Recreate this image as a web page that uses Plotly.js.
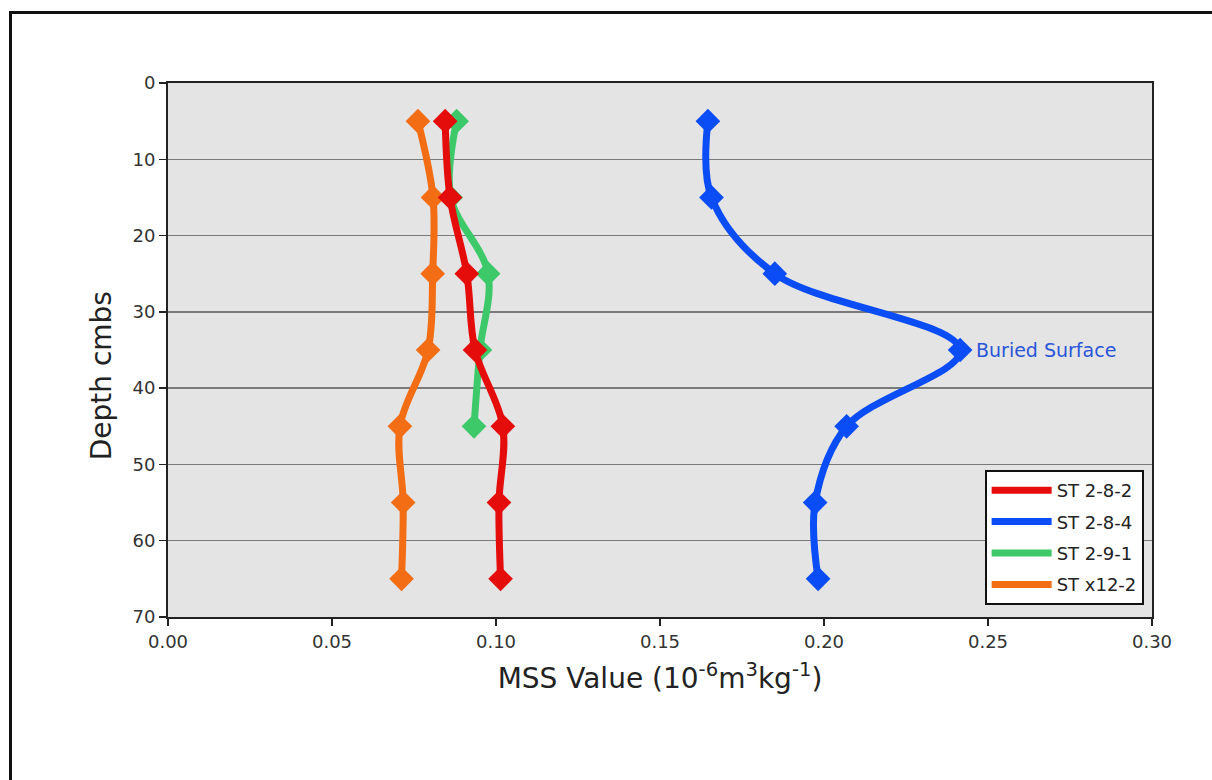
<!DOCTYPE html>
<html>
<head>
<meta charset="utf-8">
<script src="https://cdn.plot.ly/plotly-3.0.1.min.js"></script>
<style>
  html, body { margin: 0; padding: 0; background: #fff; }
  #wrap { position: relative; width: 1212px; height: 780px; overflow: hidden; }
  #chart { width: 1212px; height: 780px; }
  #frame { position: absolute; left: 9px; top: 11px; width: 1300px; height: 900px;
           border-left: 3px solid #111; border-top: 3px solid #111; pointer-events: none; }
</style>
</head>
<body>
<div id="wrap">
  <div id="chart"></div>
  <div id="frame"></div>
</div>
<script>
// Depths (cm below surface)
const depths = [5, 15, 25, 35, 45, 55, 65];
const depthsShort = [5, 15, 25, 35, 45];

// MSS values (10^-6 m^3 kg^-1)
const st282 = [0.0845, 0.0860, 0.0911, 0.0936, 0.1021, 0.1009, 0.1014];
const st284 = [0.1646, 0.1657, 0.1850, 0.2415, 0.2069, 0.1973, 0.1982];
const st291 = [0.0880, 0.0862, 0.0976, 0.0951, 0.0933];
const stx122 = [0.0762, 0.0808, 0.0807, 0.0793, 0.0707, 0.0717, 0.0712];

const seriesNames = ['ST 2-8-2', 'ST 2-8-4', 'ST 2-9-1', 'ST x12-2'];
const colors = ['#e50c0c', '#0a4cf5', '#3dc96a', '#f26d14'];

const xTicks = [0, 0.05, 0.10, 0.15, 0.20, 0.25, 0.30];
const yTicks = [0, 10, 20, 30, 40, 50, 60, 70];
const annotationText = 'Buried Surface';
const xTitle = 'MSS Value (10<sup>-6</sup>m<sup>3</sup>kg<sup>-1</sup>)';
const yTitle = 'Depth cmbs';

function dataTrace(x, y, color) {
  return {
    x: x, y: y, type: 'scatter', mode: 'lines+markers', showlegend: false,
    line: {color: color, width: 7, shape: 'spline', smoothing: 1},
    marker: {symbol: 'diamond', size: 19, color: color},
    hoverinfo: 'x+y'
  };
}
function legendTrace(name, color, i) {
  return {
    x: [null], y: [null], type: 'scatter', mode: 'lines', name: name,
    legendgroup: 'g' + i,
    line: {color: color, width: 7}
  };
}

const traces = [
  dataTrace(st291, depthsShort, colors[2]),
  dataTrace(stx122, depths, colors[3]),
  dataTrace(st282, depths, colors[0]),
  dataTrace(st284, depths, colors[1]),
  legendTrace(seriesNames[0], colors[0], 0),
  legendTrace(seriesNames[1], colors[1], 1),
  legendTrace(seriesNames[2], colors[2], 2),
  legendTrace(seriesNames[3], colors[3], 3)
];

const fontFam = '"DejaVu Sans", "Open Sans", sans-serif';

const layout = {
  width: 1212, height: 780,
  margin: {l: 168, r: 60, t: 83, b: 163, pad: 0},
  paper_bgcolor: '#ffffff',
  plot_bgcolor: '#e4e4e4',
  font: {family: fontFam, color: '#333'},
  showlegend: true,
  legend: {
    x: 0.9915, y: 0.0225, xanchor: 'right', yanchor: 'bottom',
    bgcolor: '#ffffff', bordercolor: '#111', borderwidth: 2,
    font: {family: fontFam, size: 18, color: '#222'},
    tracegroupgap: 5, itemwidth: 60
  },
  xaxis: {
    range: [0, 0.30], tickvals: xTicks, tickformat: '.2f',
    showgrid: false, zeroline: false,
    showline: true, linecolor: '#222', linewidth: 2, mirror: true,
    ticks: 'outside', ticklen: 7, tickwidth: 1.5, tickcolor: '#222',
    tickfont: {size: 18, color: '#333'},
    title: {text: xTitle, font: {size: 28, color: '#222'}, standoff: 18}
  },
  yaxis: {
    range: [70, 0], tickvals: yTicks,
    showgrid: true, gridcolor: '#7a7a7a', gridwidth: 1.3, zeroline: false,
    showline: true, linecolor: '#222', linewidth: 2, mirror: true,
    ticks: 'outside', ticklen: 7, tickwidth: 1.5, tickcolor: '#222',
    tickfont: {size: 18, color: '#333'}
  },
  annotations: [{
    x: st284[3], y: depths[3], xref: 'x', yref: 'y',
    text: annotationText, showarrow: false, xanchor: 'left', yanchor: 'middle',
    xshift: 14, font: {family: fontFam, size: 19, color: '#2a55d8'}
  }, {
    x: -0.068, y: 0.451, xref: 'paper', yref: 'paper',
    text: yTitle, showarrow: false, textangle: -90,
    xanchor: 'center', yanchor: 'middle',
    font: {family: fontFam, size: 28, color: '#222'}
  }]
};

Plotly.newPlot('chart', traces, layout, {displayModeBar: false, staticPlot: true});
</script>
</body>
</html>
